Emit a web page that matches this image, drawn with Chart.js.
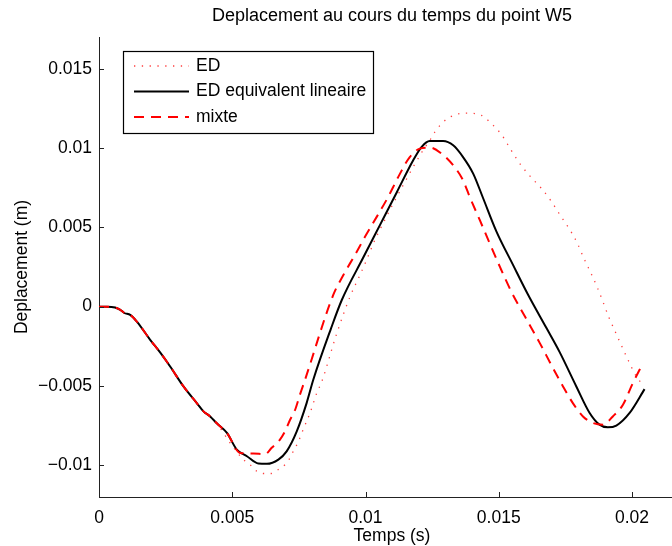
<!DOCTYPE html>
<html>
<head>
<meta charset="utf-8">
<script src="https://cdn.jsdelivr.net/npm/chart.js@4.4.1/dist/chart.umd.min.js"></script>
<style>
html,body{margin:0;padding:0;background:#fff;}
#wrap{width:672px;height:546px;position:relative;}
</style>
</head>
<body>
<div id="wrap"><canvas id="c" width="672" height="546"></canvas></div>
<script>
// ---- data (time in s, displacement in m) ----
const edTime = [0,0.0003,0.0006,0.0008,0.00095,0.00117,0.00142,0.00192,0.0023,0.00267,0.00317,0.00367,0.00392,0.00417,0.00442,0.00467,0.00492,0.00542,0.00567,0.00592,0.00617,0.00644,0.00673,0.00698,0.00717,0.00729,0.00746,0.00761,0.00779,0.00792,0.00817,0.00836,0.0089,0.00942,0.00979,0.01004,0.01035,0.01066,0.01104,0.01141,0.01179,0.01216,0.01241,0.0126,0.01298,0.01341,0.01379,0.01435,0.01473,0.0151,0.01547,0.01582,0.01622,0.01664,0.017,0.01732,0.01766,0.01795,0.01819,0.01845,0.0187,0.01891,0.01913,0.01938,0.01963,0.01988,0.02016,0.02033];
const edDisp = [0,0,-0.00005,-0.0002,-0.0004,-0.00052,-0.00094,-0.00209,-0.0029,-0.00377,-0.00503,-0.00608,-0.0066,-0.00692,-0.00735,-0.00796,-0.00859,-0.00964,-0.00996,-0.01038,-0.01052,-0.01052,-0.01027,-0.00996,-0.00953,-0.00912,-0.00859,-0.00796,-0.00723,-0.0067,-0.00545,-0.00472,-0.0018,0.00063,0.00199,0.00294,0.0042,0.00525,0.0065,0.00765,0.00881,0.00986,0.01048,0.01101,0.01174,0.01212,0.0122,0.01206,0.01153,0.01085,0.00985,0.00895,0.00814,0.00738,0.00657,0.00572,0.00487,0.00399,0.00306,0.00214,0.0012,0.00031,-0.00067,-0.00161,-0.00255,-0.00346,-0.0044,-0.00478];

const eqTime = [0,0.0003,0.0006,0.0008,0.00095,0.00117,0.00142,0.00192,0.0023,0.00267,0.00317,0.00367,0.00392,0.00417,0.00442,0.0048,0.00517,0.00555,0.00598,0.0063,0.00673,0.00704,0.00742,0.00779,0.00804,0.0087,0.00911,0.00991,0.01054,0.01117,0.01179,0.0121,0.01241,0.01291,0.01329,0.01366,0.01404,0.01441,0.01491,0.01553,0.0161,0.01679,0.01728,0.01791,0.01841,0.01878,0.01909,0.01941,0.01991,0.02047];
const eqDisp = [0,0,-0.00005,-0.0002,-0.0004,-0.00052,-0.00094,-0.00209,-0.0029,-0.00377,-0.00503,-0.00608,-0.0066,-0.00692,-0.00735,-0.00796,-0.00901,-0.00943,-0.00989,-0.00991,-0.00964,-0.00912,-0.00786,-0.00608,-0.00461,-0.0014,0.00042,0.00308,0.00514,0.0072,0.00923,0.01006,0.01044,0.01044,0.01017,0.00943,0.00839,0.00685,0.00475,0.00265,0.00075,-0.00135,-0.00285,-0.00503,-0.0067,-0.00744,-0.00761,-0.0075,-0.0067,-0.0052];

const mxTime = [0,0.0003,0.0006,0.0008,0.00095,0.00117,0.00142,0.00192,0.0023,0.00267,0.00317,0.00367,0.00392,0.00417,0.00442,0.0048,0.0053,0.00579,0.00623,0.00648,0.00679,0.00698,0.00717,0.00736,0.00754,0.00773,0.00879,0.00917,0.0096,0.00998,0.01042,0.01085,0.01123,0.01166,0.01204,0.01241,0.01285,0.01329,0.01366,0.01391,0.01429,0.01466,0.01504,0.01547,0.01579,0.01616,0.01654,0.01697,0.01741,0.01778,0.01816,0.01853,0.01891,0.01928,0.01966,0.02003,0.02041];
const mxDisp = [0,0,-0.00005,-0.0002,-0.0004,-0.00052,-0.00094,-0.00209,-0.0029,-0.00377,-0.00503,-0.00608,-0.0066,-0.00692,-0.00735,-0.00796,-0.00922,-0.00926,-0.0093,-0.0089,-0.00838,-0.00786,-0.00713,-0.0065,-0.00555,-0.00461,0.00074,0.002,0.00325,0.0044,0.00566,0.00692,0.00818,0.00943,0.00996,0.01003,0.00965,0.00891,0.00797,0.00692,0.00545,0.00399,0.00252,0.00095,-0.00005,-0.00115,-0.0023,-0.00367,-0.00503,-0.00608,-0.00692,-0.00733,-0.00744,-0.00692,-0.00618,-0.00482,-0.00356];

const seriesLabels = ['ED', 'ED equivalent lineaire', 'mixte'];
const xTickValues = [0, 0.005, 0.01, 0.015, 0.02];
const xTickLabels = ['0', '0.005', '0.01', '0.015', '0.02'];
const yTickValues = [-0.01, -0.005, 0, 0.005, 0.01, 0.015];
const yTickLabels = ['\u22120.01', '\u22120.005', '0', '0.005', '0.01', '0.015'];
const titleText = 'Deplacement au cours du temps du point W5';
const xTitle = 'Temps (s)';
const yTitle = 'Deplacement (m)';

const FONT = '"Liberation Sans", Arial, Helvetica, sans-serif';
const pts = (t, v) => t.map((x, i) => ({x: x, y: v[i]}));

const decorPlugin = {
  id: 'decor',
  afterDraw(chart) {
    const ctx = chart.ctx, ca = chart.chartArea;
    const xs = chart.scales.x, ys = chart.scales.y;
    ctx.save();
    // inward ticks
    ctx.strokeStyle = '#222'; ctx.lineWidth = 1;
    ctx.beginPath();
    xTickValues.forEach(v => { const p = Math.round(xs.getPixelForValue(v)) + 0.5; ctx.moveTo(p, ca.bottom); ctx.lineTo(p, ca.bottom - 5); });
    yTickValues.forEach(v => { const p = Math.round(ys.getPixelForValue(v)) + 0.5; ctx.moveTo(ca.left, p); ctx.lineTo(ca.left + 5, p); });
    ctx.stroke();
    // titles
    ctx.fillStyle = '#000';
    ctx.textAlign = 'center'; ctx.textBaseline = 'middle';
    ctx.font = '18px ' + FONT;
    ctx.fillText(titleText, 392, 16);
    ctx.font = '17.5px ' + FONT;
    ctx.fillText(xTitle, 392, 536);
    ctx.translate(22, 267); ctx.rotate(-Math.PI / 2);
    ctx.fillText(yTitle, 0, 0);
    ctx.restore();
    // legend
    ctx.save();
    const bx = 123.5, by = 51.5, bw = 250, bh = 82;
    ctx.fillStyle = '#fff'; ctx.fillRect(bx, by, bw, bh);
    ctx.strokeStyle = '#000'; ctx.lineWidth = 1.2; ctx.strokeRect(bx, by, bw, bh);
    ctx.font = '17.5px ' + FONT; ctx.textAlign = 'left'; ctx.textBaseline = 'middle'; ctx.fillStyle = '#000';
    chart.data.datasets.forEach((ds, i) => {
      const yy = 66 + i * 25.5;
      ctx.save();
      ctx.strokeStyle = ds.borderColor; ctx.lineWidth = ds.borderWidth;
      ctx.setLineDash(ds.borderDash || []);
      ctx.beginPath(); ctx.moveTo(134, yy); ctx.lineTo(189, yy); ctx.stroke();
      ctx.restore();
      ctx.fillText(ds.label, 196, yy);
    });
    ctx.restore();
  }
};

new Chart(document.getElementById('c'), {
  type: 'line',
  data: {
    datasets: [
      { label: seriesLabels[0], data: pts(edTime, edDisp), borderColor: 'rgba(255,40,40,0.9)', borderWidth: 1.3, borderDash: [1.3, 6.5], pointRadius: 0, cubicInterpolationMode: 'monotone', order: 3, fill: false },
      { label: seriesLabels[1], data: pts(eqTime, eqDisp), borderColor: '#000', borderWidth: 2, pointRadius: 0, cubicInterpolationMode: 'monotone', order: 2, fill: false },
      { label: seriesLabels[2], data: pts(mxTime, mxDisp), borderColor: '#ff0000', borderWidth: 2, borderDash: [10, 7], pointRadius: 0, cubicInterpolationMode: 'monotone', order: 1, fill: false }
    ]
  },
  options: {
    responsive: false,
    animation: false,
    events: [],
    layout: { padding: { top: 37, right: 0, left: 0, bottom: 0 } },
    plugins: { legend: { display: false }, title: { display: false }, tooltip: { enabled: false } },
    scales: {
      x: {
        type: 'linear', min: 0, max: 0.0215,
        grid: { display: false, drawTicks: false },
        border: { display: true, color: '#222', width: 1 },
        afterBuildTicks: s => { s.ticks = xTickValues.map(v => ({ value: v })); },
        afterFit: s => { s.height = 49; },
        ticks: { color: '#000', font: { family: FONT, size: 17.5 }, padding: 11, maxRotation: 0, autoSkip: false,
                 callback: (v) => xTickLabels[xTickValues.indexOf(v)] }
      },
      y: {
        type: 'linear', min: -0.012, max: 0.017,
        grid: { display: false, drawTicks: false },
        border: { display: true, color: '#222', width: 1 },
        afterBuildTicks: s => { s.ticks = yTickValues.map(v => ({ value: v })); },
        afterFit: s => { s.width = 99; },
        ticks: { color: '#000', font: { family: FONT, size: 17.5 }, padding: 7, autoSkip: false,
                 callback: (v) => yTickLabels[yTickValues.indexOf(v)] }
      }
    }
  },
  plugins: [decorPlugin]
});
</script>
</body>
</html>
